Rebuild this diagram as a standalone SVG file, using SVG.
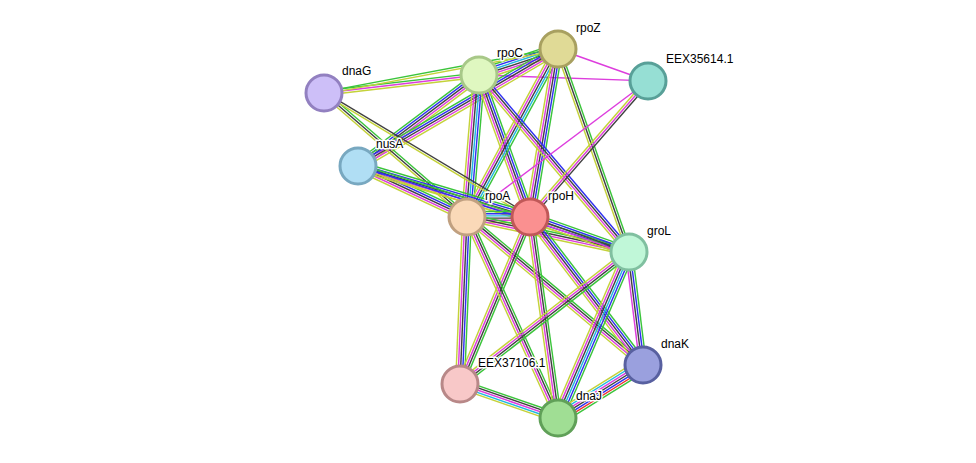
<svg xmlns="http://www.w3.org/2000/svg" width="976" height="463" viewBox="0 0 976 463">
<style>
line{stroke-width:1.1;fill:none}
.g{stroke:#3bc43b}.b{stroke:#3030f0}.c{stroke:#20b8e0}.k{stroke:#404040}.m{stroke:#dd3ddd}.y{stroke:#c4d23a}.r{stroke:#f03030}
circle{stroke-width:3}
text{font-family:"Liberation Sans",Arial,sans-serif;font-size:12px;fill:#000;stroke:#fff;stroke-width:3px;paint-order:stroke;stroke-linejoin:round}
</style>
<rect width="976" height="463" fill="#fff"/>
<g id="connectors">
<g transform="translate(479,75) rotate(-18.2) scale(1,1.3)"><line class="g" x2="83" y1="-4.25" y2="-4.25"/><line class="b" x2="83" y1="-2.55" y2="-2.55"/><line class="c" x2="83" y1="-0.85" y2="-0.85"/><line class="k" x2="83" y1="0.85" y2="0.85"/><line class="m" x2="83" y1="2.55" y2="2.55"/><line class="y" x2="83" y1="4.25" y2="4.25"/></g>
<g transform="translate(324,93) rotate(-6.6) scale(1,1.3)"><line class="g" x2="156" y1="-1.7" y2="-1.7"/><line class="m" x2="156"/><line class="y" x2="156" y1="1.7" y2="1.7"/></g>
<g transform="translate(324,93) rotate(-10.6) scale(1,1.3)"><line class="g" x2="238" y1="-0.85" y2="-0.85"/><line class="y" x2="238" y1="0.85" y2="0.85"/></g>
<g transform="translate(479,75) rotate(2) scale(1,1.3)"><line class="m" x2="169"/></g>
<g transform="translate(558,49) rotate(19.6) scale(1,1.3)"><line class="m" x2="95.5"/></g>
<g transform="translate(358,166) rotate(-36.9) scale(1,1.3)"><line class="g" x2="151.4" y1="-3.4" y2="-3.4"/><line class="b" x2="151.4" y1="-1.7" y2="-1.7"/><line class="k" x2="151.4"/><line class="m" x2="151.4" y1="1.7" y2="1.7"/><line class="y" x2="151.4" y1="3.4" y2="3.4"/></g>
<g transform="translate(358,166) rotate(-30.3) scale(1,1.3)"><line class="g" x2="231.7" y1="-3.4" y2="-3.4"/><line class="b" x2="231.7" y1="-1.7" y2="-1.7"/><line class="k" x2="231.7"/><line class="m" x2="231.7" y1="1.7" y2="1.7"/><line class="y" x2="231.7" y1="3.4" y2="3.4"/></g>
<g transform="translate(479,75) rotate(94.8) scale(1,1.3)"><line class="g" x2="142.5" y1="-4.25" y2="-4.25"/><line class="b" x2="142.5" y1="-2.55" y2="-2.55"/><line class="c" x2="142.5" y1="-0.85" y2="-0.85"/><line class="k" x2="142.5" y1="0.85" y2="0.85"/><line class="m" x2="142.5" y1="2.55" y2="2.55"/><line class="y" x2="142.5" y1="4.25" y2="4.25"/></g>
<g transform="translate(479,75) rotate(70.2) scale(1,1.3)"><line class="g" x2="150.9" y1="-3.4" y2="-3.4"/><line class="b" x2="150.9" y1="-1.7" y2="-1.7"/><line class="k" x2="150.9"/><line class="m" x2="150.9" y1="1.7" y2="1.7"/><line class="y" x2="150.9" y1="3.4" y2="3.4"/></g>
<g transform="translate(558,49) rotate(118.4) scale(1,1.3)"><line class="g" x2="191.1" y1="-3.4" y2="-3.4"/><line class="c" x2="191.1" y1="-1.7" y2="-1.7"/><line class="k" x2="191.1"/><line class="m" x2="191.1" y1="1.7" y2="1.7"/><line class="y" x2="191.1" y1="3.4" y2="3.4"/></g>
<g transform="translate(558,49) rotate(99.5) scale(1,1.3)"><line class="g" x2="170.3" y1="-3.4" y2="-3.4"/><line class="b" x2="170.3" y1="-1.7" y2="-1.7"/><line class="k" x2="170.3"/><line class="m" x2="170.3" y1="1.7" y2="1.7"/><line class="y" x2="170.3" y1="3.4" y2="3.4"/></g>
<g transform="translate(479,75) rotate(49.7) scale(1,1.3)"><line class="b" x2="232" y1="-2.55" y2="-2.55"/><line class="k" x2="232" y1="-0.85" y2="-0.85"/><line class="m" x2="232" y1="0.85" y2="0.85"/><line class="y" x2="232" y1="2.55" y2="2.55"/></g>
<g transform="translate(558,49) rotate(70.7) scale(1,1.3)"><line class="g" x2="215.1" y1="-1.7" y2="-1.7"/><line class="k" x2="215.1"/><line class="y" x2="215.1" y1="1.7" y2="1.7"/></g>
<g transform="translate(648,81) rotate(143.1) scale(1,1.3)"><line class="m" x2="226.4"/></g>
<g transform="translate(648,81) rotate(131) scale(1,1.3)"><line class="k" x2="180.1" y1="-1.7" y2="-1.7"/><line class="m" x2="180.1"/><line class="y" x2="180.1" y1="1.7" y2="1.7"/></g>
<g transform="translate(324,93) rotate(40.9) scale(1,1.3)"><line class="g" x2="189.3" y1="-1.7" y2="-1.7"/><line class="k" x2="189.3"/><line class="y" x2="189.3" y1="1.7" y2="1.7"/></g>
<g transform="translate(324,93) rotate(31) scale(1,1.3)"><line class="k" x2="240.4" y1="-0.85" y2="-0.85"/><line class="y" x2="240.4" y1="0.85" y2="0.85"/></g>
<g transform="translate(358,166) rotate(25.1) scale(1,1.3)"><line class="g" x2="120.3" y1="-3.4" y2="-3.4"/><line class="b" x2="120.3" y1="-1.7" y2="-1.7"/><line class="k" x2="120.3"/><line class="m" x2="120.3" y1="1.7" y2="1.7"/><line class="y" x2="120.3" y1="3.4" y2="3.4"/></g>
<g transform="translate(358,166) rotate(16.5) scale(1,1.3)"><line class="g" x2="179.4" y1="-3.4" y2="-3.4"/><line class="b" x2="179.4" y1="-1.7" y2="-1.7"/><line class="k" x2="179.4"/><line class="m" x2="179.4" y1="1.7" y2="1.7"/><line class="y" x2="179.4" y1="3.4" y2="3.4"/></g>
<g transform="translate(358,166) rotate(17.6) scale(1,1.3)"><line class="g" x2="284.3" y1="-1.7" y2="-1.7"/><line class="b" x2="284.3"/><line class="y" x2="284.3" y1="1.7" y2="1.7"/></g>
<g transform="translate(467,217) scale(1,1.3)"><line class="g" x2="63" y1="-4.25" y2="-4.25"/><line class="b" x2="63" y1="-2.55" y2="-2.55"/><line class="c" x2="63" y1="-0.85" y2="-0.85"/><line class="k" x2="63" y1="0.85" y2="0.85"/><line class="m" x2="63" y1="2.55" y2="2.55"/><line class="y" x2="63" y1="4.25" y2="4.25"/></g>
<g transform="translate(467,217) rotate(12.2) scale(1,1.3)"><line class="g" x2="165.7" y1="-2.55" y2="-2.55"/><line class="k" x2="165.7" y1="-0.85" y2="-0.85"/><line class="m" x2="165.7" y1="0.85" y2="0.85"/><line class="y" x2="165.7" y1="2.55" y2="2.55"/></g>
<g transform="translate(530,217) rotate(19.5) scale(1,1.3)"><line class="g" x2="105" y1="-3.4" y2="-3.4"/><line class="b" x2="105" y1="-1.7" y2="-1.7"/><line class="k" x2="105"/><line class="m" x2="105" y1="1.7" y2="1.7"/><line class="y" x2="105" y1="3.4" y2="3.4"/></g>
<g transform="translate(467,217) rotate(40.1) scale(1,1.3)"><line class="g" x2="230" y1="-2.55" y2="-2.55"/><line class="k" x2="230" y1="-0.85" y2="-0.85"/><line class="m" x2="230" y1="0.85" y2="0.85"/><line class="y" x2="230" y1="2.55" y2="2.55"/></g>
<g transform="translate(530,217) rotate(52.6) scale(1,1.3)"><line class="g" x2="186.2" y1="-3.4" y2="-3.4"/><line class="b" x2="186.2" y1="-1.7" y2="-1.7"/><line class="k" x2="186.2"/><line class="m" x2="186.2" y1="1.7" y2="1.7"/><line class="y" x2="186.2" y1="3.4" y2="3.4"/></g>
<g transform="translate(467,217) rotate(92.4) scale(1,1.3)"><line class="g" x2="167.1" y1="-3.4" y2="-3.4"/><line class="b" x2="167.1" y1="-1.7" y2="-1.7"/><line class="k" x2="167.1"/><line class="m" x2="167.1" y1="1.7" y2="1.7"/><line class="y" x2="167.1" y1="3.4" y2="3.4"/></g>
<g transform="translate(530,217) rotate(112.7) scale(1,1.3)"><line class="g" x2="181.1" y1="-2.55" y2="-2.55"/><line class="k" x2="181.1" y1="-0.85" y2="-0.85"/><line class="m" x2="181.1" y1="0.85" y2="0.85"/><line class="y" x2="181.1" y1="2.55" y2="2.55"/></g>
<g transform="translate(467,217) rotate(65.6) scale(1,1.3)"><line class="g" x2="220.6" y1="-2.55" y2="-2.55"/><line class="k" x2="220.6" y1="-0.85" y2="-0.85"/><line class="m" x2="220.6" y1="0.85" y2="0.85"/><line class="y" x2="220.6" y1="2.55" y2="2.55"/></g>
<g transform="translate(530,217) rotate(82.1) scale(1,1.3)"><line class="g" x2="202.9" y1="-2.55" y2="-2.55"/><line class="k" x2="202.9" y1="-0.85" y2="-0.85"/><line class="m" x2="202.9" y1="0.85" y2="0.85"/><line class="y" x2="202.9" y1="2.55" y2="2.55"/></g>
<g transform="translate(629,252) rotate(82.9) scale(1,1.3)"><line class="g" x2="113.9" y1="-2.55" y2="-2.55"/><line class="b" x2="113.9" y1="-0.85" y2="-0.85"/><line class="k" x2="113.9" y1="0.85" y2="0.85"/><line class="m" x2="113.9" y1="2.55" y2="2.55"/></g>
<g transform="translate(629,252) rotate(113.2) scale(1,1.3)"><line class="g" x2="180.5" y1="-4.25" y2="-4.25"/><line class="b" x2="180.5" y1="-2.55" y2="-2.55"/><line class="c" x2="180.5" y1="-0.85" y2="-0.85"/><line class="k" x2="180.5" y1="0.85" y2="0.85"/><line class="m" x2="180.5" y1="2.55" y2="2.55"/><line class="y" x2="180.5" y1="4.25" y2="4.25"/></g>
<g transform="translate(629,252) rotate(142) scale(1,1.3)"><line class="g" x2="214.4" y1="-2.55" y2="-2.55"/><line class="k" x2="214.4" y1="-0.85" y2="-0.85"/><line class="m" x2="214.4" y1="0.85" y2="0.85"/><line class="y" x2="214.4" y1="2.55" y2="2.55"/></g>
<g transform="translate(643,365) rotate(148.1) scale(1,1.3)"><line class="g" x2="100.2" y1="-5.1" y2="-5.1"/><line class="r" x2="100.2" y1="-3.4" y2="-3.4"/><line class="b" x2="100.2" y1="-1.7" y2="-1.7"/><line class="k" x2="100.2"/><line class="m" x2="100.2" y1="1.7" y2="1.7"/><line class="c" x2="100.2" y1="3.4" y2="3.4"/><line class="y" x2="100.2" y1="5.1" y2="5.1"/></g>
<g transform="translate(460,384) rotate(19.1) scale(1,1.3)"><line class="g" x2="103.7" y1="-3.4" y2="-3.4"/><line class="k" x2="103.7" y1="-1.7" y2="-1.7"/><line class="m" x2="103.7"/><line class="c" x2="103.7" y1="1.7" y2="1.7"/><line class="y" x2="103.7" y1="3.4" y2="3.4"/></g>
</g>
<g id="n-rpoZ"><circle cx="558" cy="49" r="18" fill="#e0da96" stroke="#a8a060"/><text x="576" y="32">rpoZ</text></g>
<g id="n-EEX35614"><circle cx="648" cy="81" r="18" fill="#96dfd4" stroke="#58a098"/><text x="666" y="63">EEX35614.1</text></g>
<g id="n-rpoC"><circle cx="479" cy="75" r="18" fill="#dff7c0" stroke="#a8c888"/><text x="497" y="57">rpoC</text></g>
<g id="n-dnaG"><circle cx="324" cy="93" r="18" fill="#cdbff8" stroke="#9280c0"/><text x="342" y="75">dnaG</text></g>
<g id="n-nusA"><circle cx="358" cy="166" r="18" fill="#b0def4" stroke="#78a8c0"/><text x="376" y="148">nusA</text></g>
<g id="n-rpoA"><circle cx="467" cy="217" r="18" fill="#fad9b8" stroke="#c0a080"/><text x="485" y="200">rpoA</text></g>
<g id="n-rpoH"><circle cx="530" cy="217" r="18" fill="#fa9090" stroke="#c05858"/><text x="548" y="200">rpoH</text></g>
<g id="n-groL"><circle cx="629" cy="252" r="18" fill="#c0f7d8" stroke="#80c0a0"/><text x="647" y="235">groL</text></g>
<g id="n-dnaK"><circle cx="643" cy="365" r="18" fill="#9aa0de" stroke="#5860a0"/><text x="661" y="348">dnaK</text></g>
<g id="n-EEX37106"><circle cx="460" cy="384" r="18" fill="#f8c8c8" stroke="#b88888"/><text x="478" y="367">EEX37106.1</text></g>
<g id="n-dnaJ"><circle cx="558" cy="418" r="18" fill="#a0de94" stroke="#60a058"/><text x="576" y="400">dnaJ</text></g>
</svg>
